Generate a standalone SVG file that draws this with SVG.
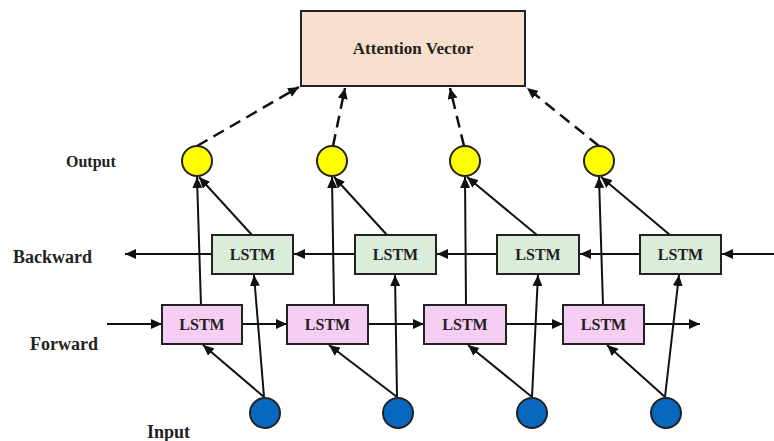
<svg xmlns="http://www.w3.org/2000/svg" width="774" height="441" viewBox="0 0 774 441">
<style>
text{font-family:"Liberation Serif","Times New Roman",serif;font-weight:bold;fill:#222}
.lbl{font-size:18px}
.box{stroke:#222;stroke-width:2}
.fw{fill:#f6cef4}
.bw{fill:#d9edd9}
.out{fill:#ffff00;stroke:#222;stroke-width:2}
.inp{fill:#0868c0;stroke:#222;stroke-width:2}
.c{stroke:#111;stroke-width:2;fill:none;marker-end:url(#ah)}
.d{stroke:#111;stroke-width:2.5;fill:none;stroke-dasharray:12 7;marker-end:url(#ah)}
.lt{font-size:16px;text-anchor:middle}
</style>
<defs>
<marker id="ah" markerUnits="userSpaceOnUse" markerWidth="12" markerHeight="10" refX="11" refY="5" orient="auto">
<path d="M0,0 L11,5 L0,10 Z" fill="#111"/>
</marker>
</defs>
<rect width="774" height="441" fill="#fff"/>
<g id="connectors">
<line class="d" x1="197" y1="146" x2="299" y2="87"/>
<line class="d" x1="333" y1="146" x2="345" y2="88"/>
<line class="d" x1="464" y1="146" x2="450" y2="88"/>
<line class="d" x1="599" y1="146" x2="527" y2="88"/>
<line class="c" x1="774" y1="254" x2="722" y2="254"/>
<line class="c" x1="640" y1="254" x2="580" y2="254"/>
<line class="c" x1="497" y1="254" x2="437" y2="254"/>
<line class="c" x1="355" y1="254" x2="294" y2="254"/>
<line class="c" x1="212" y1="254" x2="125" y2="254"/>
<line class="c" x1="107" y1="324" x2="162" y2="324"/>
<line class="c" x1="242" y1="324" x2="287" y2="324"/>
<line class="c" x1="368" y1="324" x2="424" y2="324"/>
<line class="c" x1="506" y1="324" x2="563" y2="324"/>
<line class="c" x1="644" y1="324" x2="700" y2="324"/>
<line class="c" x1="201" y1="305" x2="197" y2="177"/>
<line class="c" x1="334" y1="305" x2="332" y2="177"/>
<line class="c" x1="466" y1="305" x2="465" y2="177"/>
<line class="c" x1="603" y1="305" x2="599" y2="177"/>
<line class="c" x1="252" y1="235" x2="199" y2="177"/>
<line class="c" x1="387" y1="235" x2="334" y2="177"/>
<line class="c" x1="537" y1="235" x2="467" y2="177"/>
<line class="c" x1="670" y1="235" x2="601" y2="177"/>
<line class="c" x1="264" y1="397" x2="203" y2="345"/>
<line class="c" x1="264" y1="397" x2="254" y2="275"/>
<line class="c" x1="397" y1="397" x2="329" y2="345"/>
<line class="c" x1="397" y1="397" x2="395" y2="275"/>
<line class="c" x1="532" y1="397" x2="468" y2="345"/>
<line class="c" x1="532" y1="397" x2="538" y2="275"/>
<line class="c" x1="665" y1="397" x2="607" y2="345"/>
<line class="c" x1="665" y1="397" x2="679" y2="275"/>
</g>
<g id="attention"><rect class="box" x="301" y="11" width="224" height="75" fill="#f9dfcd"/><text x="413" y="54" font-size="17" text-anchor="middle">Attention Vector</text></g>
<g id="labels">
<text x="66" y="167" font-size="16">Output</text>
<text class="lbl" x="13" y="263">Backward</text>
<text class="lbl" x="30" y="350">Forward</text>
<text class="lbl" x="147" y="438">Input</text>
</g>
<g id="out1"><circle class="out" cx="197" cy="161" r="15"/></g>
<g id="out2"><circle class="out" cx="332" cy="161" r="15"/></g>
<g id="out3"><circle class="out" cx="465" cy="161" r="15"/></g>
<g id="out4"><circle class="out" cx="599" cy="161" r="15"/></g>
<g id="bw1"><rect class="box bw" x="212" y="235" width="81" height="39"/><text class="lt" x="252.5" y="260">LSTM</text></g>
<g id="bw2"><rect class="box bw" x="355" y="235" width="81" height="39"/><text class="lt" x="395.5" y="260">LSTM</text></g>
<g id="bw3"><rect class="box bw" x="497" y="235" width="82" height="39"/><text class="lt" x="538" y="260">LSTM</text></g>
<g id="bw4"><rect class="box bw" x="640" y="235" width="81" height="39"/><text class="lt" x="680.5" y="260">LSTM</text></g>
<g id="fw1"><rect class="box fw" x="162" y="305" width="80" height="39"/><text class="lt" x="202" y="330">LSTM</text></g>
<g id="fw2"><rect class="box fw" x="287" y="305" width="81" height="39"/><text class="lt" x="327.5" y="330">LSTM</text></g>
<g id="fw3"><rect class="box fw" x="424" y="305" width="82" height="39"/><text class="lt" x="465" y="330">LSTM</text></g>
<g id="fw4"><rect class="box fw" x="563" y="305" width="81" height="39"/><text class="lt" x="603.5" y="330">LSTM</text></g>
<g id="in1"><circle class="inp" cx="265" cy="413" r="15"/></g>
<g id="in2"><circle class="inp" cx="398" cy="413" r="15"/></g>
<g id="in3"><circle class="inp" cx="532" cy="413" r="15"/></g>
<g id="in4"><circle class="inp" cx="666" cy="413" r="15"/></g>
</svg>
